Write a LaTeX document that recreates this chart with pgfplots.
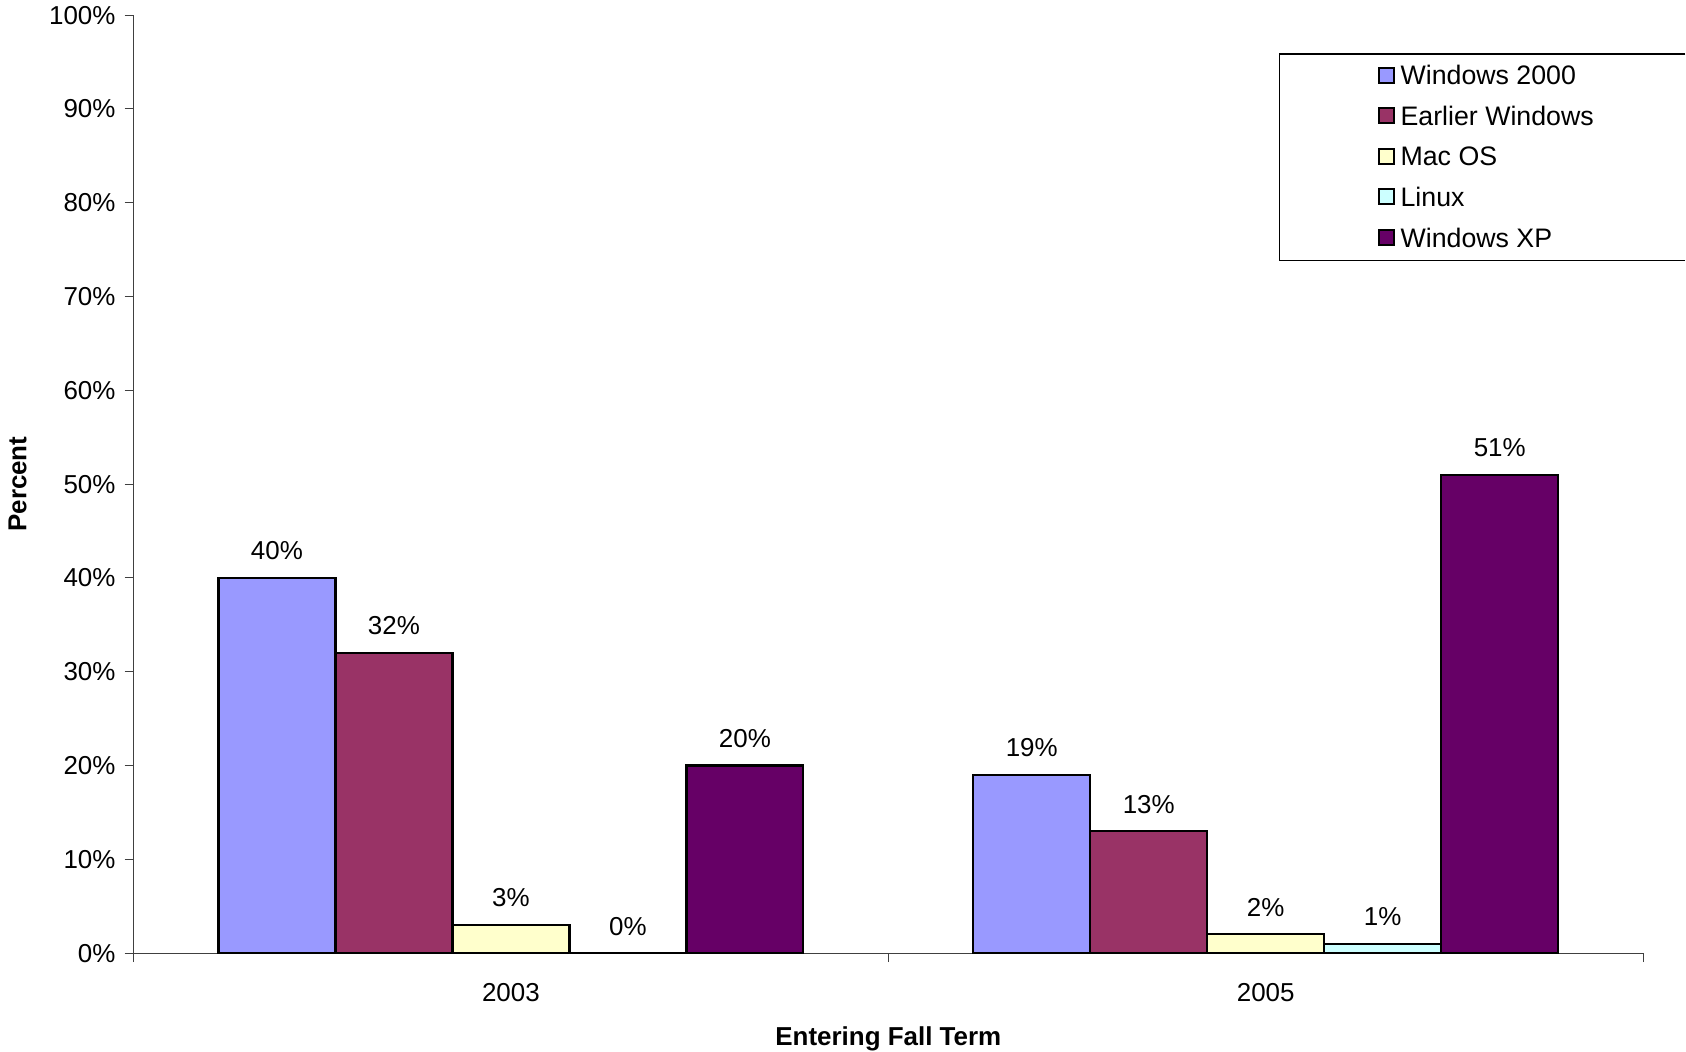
\documentclass[border=0pt]{standalone}
\usepackage{fontspec}
\setmainfont{Liberation Sans}
\usepackage{pgfplots}
\pgfplotsset{compat=1.18}

\definecolor{winTwoK}{HTML}{9999FF}
\definecolor{winOld}{HTML}{993366}
\definecolor{macos}{HTML}{FFFFCC}
\definecolor{linux}{HTML}{CCFFFF}
\definecolor{winXP}{HTML}{660066}

\begin{document}
\fontsize{13}{15.6}\selectfont
\begin{tikzpicture}
\begin{axis}[
  width=756.5pt, height=470pt, scale only axis,
  ybar=0pt, bar width=0.155,
  xmin=-0.5, xmax=1.5, ymin=0, ymax=100,
  axis x line*=bottom, axis y line*=left,
  axis line style={-, black!75, line width=0.5pt},
  clip=false,
  /pgf/number format/assume math mode=true,
  xtick={0,1}, xticklabels={2003,2005},
  major x tick style={draw=none},
  minor xtick={-0.5,0.5,1.5},
  ytick={0,10,...,100},
  yticklabel={\pgfmathprintnumber{\tick}\%},
  yticklabel style={inner ysep=3pt},
  tick align=outside, major tick length=4.5pt, minor tick length=4.5pt,
  tick style={black!75, line width=0.5pt},
  xticklabel style={yshift=-6pt},
  ylabel={\textbf{Percent}},
  ylabel style={at={(rel axis cs:-0.0767,0.5)}, anchor=center, rotate=0},
  xlabel={\textbf{Entering Fall Term}},
  xlabel style={at={(rel axis cs:0.5,-0.0917)}, anchor=center, inner sep=0pt},
  every axis plot/.append style={draw=black, line width=1.1pt},
  nodes near coords={\pgfmathprintnumber{\pgfplotspointmeta}\%},
  every node near coord/.append style={black, yshift=4pt},
  legend style={at={(rel axis cs:0.824,0.9462)}, anchor=north west,
    draw=none, fill=none, inner sep=0pt, row sep=8.3pt, column sep=3pt,
    font=\fontsize{13.4}{16}\selectfont,
    nodes={inner sep=0pt, text height=9.5pt, text depth=2.5pt}},
  legend cell align=left,
  legend image code/.code={\draw[#1, line width=0.9pt] (0pt,-2.4pt) rectangle (7.5pt,5.1pt);},
]
\addplot[fill=winTwoK] coordinates {(0,40) (1,19)};
\addlegendentry{Windows 2000}
\addplot[fill=winOld] coordinates {(0,32) (1,13)};
\addlegendentry{Earlier Windows}
\addplot[fill=macos] coordinates {(0,3) (1,2)};
\addlegendentry{Mac OS}
\addplot[fill=linux] coordinates {(0,0) (1,1)};
\addlegendentry{Linux}
\addplot[fill=winXP] coordinates {(0,20) (1,51)};
\addlegendentry{Windows XP}
\draw[black, line width=0.6pt]
  (rel axis cs:1.028,0.9585) -- (rel axis cs:0.759,0.9585)
  -- (rel axis cs:0.759,0.7383) -- (rel axis cs:1.028,0.7383);
\end{axis}
\end{tikzpicture}
\end{document}
